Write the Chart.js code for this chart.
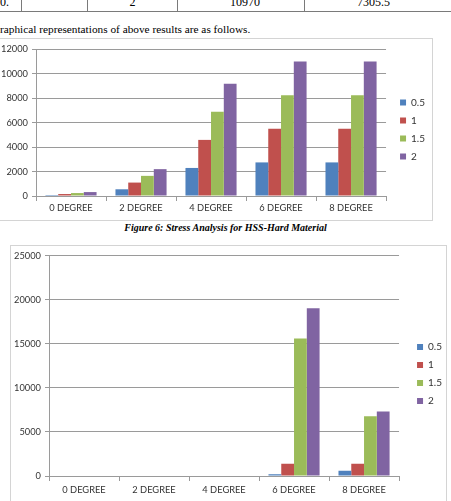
<!DOCTYPE html>
<html>
<head>
<meta charset="utf-8">
<script src="https://cdn.jsdelivr.net/npm/chart.js@4.4.0/dist/chart.umd.min.js"></script>
<style>
  html, body { margin: 0; padding: 0; background: #fff; }
  body { position: relative; width: 451px; height: 501px; overflow: hidden;
         font-family: "Liberation Serif", "Times New Roman", serif; color: #000; }
  .hline, .vline { position: absolute; background: #7a7a7a; }
  .cell { position: absolute; top: -6px; height: 16px; line-height: 16px; font-size: 12px; text-align: center; }
  .para { position: absolute; left: 0; top: 21px; font-size: 11.3px; line-height: 16px; white-space: nowrap; }
  .caption { position: absolute; left: 0; width: 451px; top: 221px; text-align: center;
             font-size: 10px; line-height: 14px; font-weight: bold; font-style: italic; }
  .box { position: absolute; border: 1px solid #d4d4d4; background: #fff; }
  canvas { display: block; }
</style>
</head>
<body>

<!-- tail of the results table above the charts -->
<div class="hline" style="left:0;top:11px;width:451px;height:1px"></div>
<div class="vline" style="left:21px;top:0;width:1px;height:11px"></div>
<div class="vline" style="left:87px;top:0;width:1px;height:11px"></div>
<div class="vline" style="left:177px;top:0;width:1px;height:11px"></div>
<div class="vline" style="left:304px;top:0;width:1px;height:11px"></div>
<div class="cell" style="left:0;width:21px;text-align:left">0.</div>
<div class="cell" style="left:88px;width:89px">2</div>
<div class="cell" style="left:184px;width:122px">10970</div>
<div class="cell" style="left:305px;width:137px">7305.5</div>

<div class="para">raphical representations of above results are as follows.</div>

<div class="box" style="left:-1px;top:38px;width:432px;height:181px">
  <canvas id="hardChart" width="431" height="180"></canvas>
</div>
<div class="caption">Figure 6: Stress Analysis for HSS-Hard Material</div>

<div class="box" style="left:10px;top:245px;width:435px;height:258px">
  <canvas id="softChart" width="434" height="256"></canvas>
</div>

<script>
// ── Data ──────────────────────────────────────────────────────────────────
const categories   = ['0 DEGREE', '2 DEGREE', '4 DEGREE', '6 DEGREE', '8 DEGREE'];
const seriesLabels = ['0.5', '1', '1.5', '2'];

// Figure 6: HSS-Hard material
const hard05 = [80, 548, 2290, 2742, 2742];
const hard1  = [160, 1096, 4580, 5485, 5485];
const hard15 = [240, 1644, 6870, 8227, 8227];
const hard2  = [320, 2192, 9160, 10970, 10970];

// second figure
const soft05 = [0, 0, 0, 200, 600];
const soft1  = [0, 0, 0, 1390, 1390];
const soft15 = [0, 0, 0, 15600, 6780];
const soft2  = [0, 0, 0, 19020, 7305.5];

const hardTicks = { max: 12000, step: 2000 };
const softTicks = { max: 25000, step: 5000 };

// Excel 2007 default series colours
const COLORS = ['#4f81bd', '#c0504d', '#9bbb59', '#8064a2'];

const FONT  = { family: 'Lato, "Open Sans", sans-serif', size: 9.3 };
const TEXT  = '#333333';
const GRID  = '#9a9a9a';

// empty axis used only to reserve space in the layout
const spacer = (position, size) => ({
  type: 'linear', position, display: true,
  grid: { display: false }, ticks: { display: false }, border: { display: false },
  afterFit: s => { if (s.isHorizontal()) s.height = size; else s.width = size; }
});

// lay: canvas padding, y axis width, x axis height, x label padding, spacer sizes
function makeChart(canvasId, series, ticks, lay) {
  const ctx = document.getElementById(canvasId).getContext('2d');
  return new Chart(ctx, {
    type: 'bar',
    data: {
      labels: categories,
      datasets: series.map((values, i) => ({
        label: seriesLabels[i],
        data: values,
        backgroundColor: COLORS[i],
        borderWidth: 0,
        categoryPercentage: 0.73,
        barPercentage: 1.0,
      }))
    },
    options: {
      responsive: false,
      animation: false,
      layout: { padding: lay.pad },
      plugins: {
        tooltip: { enabled: false },
        legend: {
          position: 'right',
          labels: {
            boxWidth: 6, boxHeight: 6, padding: 8,
            color: TEXT, font: { family: FONT.family, size: 10 }
          }
        }
      },
      scales: {
        x: {
          offset: true,
          grid: { offset: true, drawOnChartArea: false, drawTicks: true, tickLength: 5, color: GRID },
          border: { color: GRID },
          ticks: { color: TEXT, font: FONT, padding: lay.xPad, maxRotation: 0, autoSkip: false },
          afterFit: s => { s.height = lay.xHeight; }
        },
        y: {
          min: 0, max: ticks.max,
          grid: { color: GRID, tickLength: 4 },
          border: { color: GRID },
          ticks: { stepSize: ticks.step, color: TEXT, font: FONT, padding: 4,
                   callback: v => String(v) },
          afterFit: s => { s.width = lay.yWidth; }
        },
        gapTop: spacer('top', lay.topGap),
        gapRight: spacer('right', lay.gap)
      }
    }
  });
}

makeChart('hardChart', [hard05, hard1, hard15, hard2], hardTicks,
          { pad: { top: 5, right: -4, bottom: 4, left: 0 },
            yWidth: 36, xHeight: 19, xPad: 1, topGap: 5, gap: 6 });
makeChart('softChart', [soft05, soft1, soft15, soft2], softTicks,
          { pad: { top: 4, right: -7, bottom: 4, left: 0 },
            yWidth: 38, xHeight: 22, xPad: 3, topGap: 5, gap: 10 });
</script>
</body>
</html>
